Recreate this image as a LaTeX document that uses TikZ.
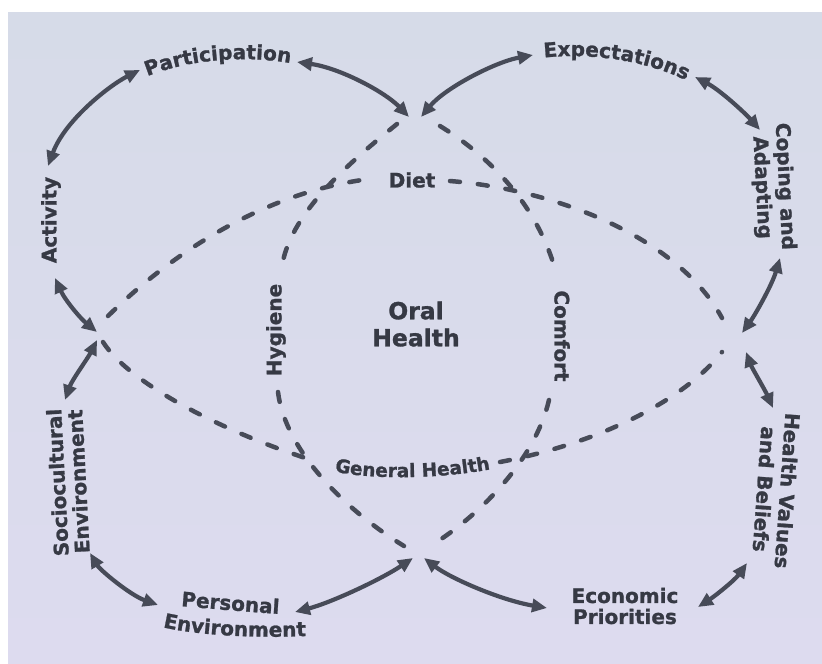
\documentclass[tikz,border=0pt]{standalone}
\usepackage{fontspec}
\setmainfont{DejaVu Sans}[BoldFeatures={FakeBold=1.2}]
\usetikzlibrary{arrows.meta,decorations.text}
\definecolor{ink}{HTML}{474B58}
\definecolor{txt}{HTML}{363944}
\definecolor{bgtop}{HTML}{D6DBE8}
\definecolor{bgbot}{HTML}{DDDBEF}
\newcommand\mylab{\fontsize{20}{22}\selectfont\bfseries\color{txt}}
\newcommand\mylabs{\fontsize{18.5}{22}\selectfont\bfseries\color{txt}}
\begin{document}
\begin{tikzpicture}[x=1pt,y=-1pt,
  link/.style={draw=ink, line width=4.2pt, {Triangle[length=15pt,width=13pt]}-{Triangle[length=15pt,width=13pt]}},
  dashline/.style={draw=ink, line width=4.5pt, line cap=round, dash pattern=on 10pt off 18pt},
  lab/.style={text=txt, font=\fontsize{20}{22}\selectfont\bfseries, inner sep=0pt, align=center},
  twolab/.style={lab, font=\fontsize{20}{21}\selectfont\bfseries},
  curvetext/.style={decorate, decoration={text along path, text align=center}},
]
\fill[white] (0,0) rectangle (822,664);
\useasboundingbox (0,0) rectangle (822,664);
\shade[top color=bgtop, bottom color=bgbot] (8,12) rectangle (822,664);

% hubs
\coordinate (tL) at (409,117);
\coordinate (tR) at (421,117);
\coordinate (rU) at (742,333);
\coordinate (rD) at (746,352);
\coordinate (bL) at (413,558);
\coordinate (bR) at (424,558);
\coordinate (lU) at (97,332);
\coordinate (lD) at (97,340);

% label ends
\coordinate (partL) at (140,70);
\coordinate (partR) at (297,62);
\coordinate (actT) at (48,166);
\coordinate (actB) at (55,278);
\coordinate (socT) at (65,400);
\coordinate (socB) at (90,553);
\coordinate (persL) at (158,605);
\coordinate (persR) at (295,612);
\coordinate (ecoL) at (547,608);
\coordinate (ecoR) at (698,607);
\coordinate (hvB) at (747,563);
\coordinate (hvT) at (773,408);
\coordinate (copB) at (780,258);
\coordinate (copT) at (760,130);
\coordinate (expR) at (695,77);
\coordinate (expL) at (533,55);

% labels
\node[lab] (diet) at (412,180) {Diet};
\node[lab, rotate=90] (hyg) at (276,330) {Hygiene};
\node[lab, rotate=-90] (com) at (562,336) {Comfort};
\node[lab, font=\fontsize{23.5}{27}\selectfont\bfseries] (oral) at (416,324) {Oral\\Health};
\node[lab, rotate=90] (act) at (51,220) {Activity};
\node[twolab, rotate=93] (soc) at (68,482) {Sociocultural\\Environment};
\node[twolab, rotate=-87, font=\fontsize{20}{23}\selectfont\bfseries] (cop) at (773,187) {Coping and\\Adapting};
\node[twolab, rotate=-94, font=\fontsize{20}{23}\selectfont\bfseries] (hv) at (776,490) {Health Values\\and Beliefs};
\node[twolab] (eco) at (625,606) {Economic\\Priorities};

\path[curvetext, decoration={text={|\mylab|Participation}}] (143,78) .. controls (190,58) and (250,55) .. (295,64);
\path[curvetext, decoration={text={|\mylab|Expectations}}] (540,58) .. controls (590,52) and (645,60) .. (690,82);
\path[curvetext, decoration={text={|\mylabs|General Health}}] (333,471) .. controls (370,480) and (440,479) .. (492,469);
\path[curvetext, decoration={text={|\mylab|Personal}}] (180,606) .. controls (215,609) and (250,612) .. (280,614);
\path[curvetext, decoration={text={|\mylab|Environment}}] (162,627) .. controls (200,636) and (260,638) .. (307,636);

% outer links
\draw[link] (partR) .. controls (340,68) and (385,92) .. (tL);
\draw[link] (partL) .. controls (110,85) and (65,120) .. (actT);
\draw[link] (actB) .. controls (65,300) and (80,318) .. (lU);
\draw[link] (lD) .. controls (88,358) and (72,380) .. (socT);
\draw[link] (socB) .. controls (100,570) and (130,595) .. (persL);
\draw[link] (persR) .. controls (330,603) and (380,580) .. (bL);
\draw[link] (bR) .. controls (450,578) and (500,600) .. (ecoL);
\draw[link] (ecoR) .. controls (715,596) and (735,580) .. (hvB);
\draw[link] (hvT) .. controls (765,390) and (752,368) .. (rD);
\draw[link] (rU) .. controls (755,315) and (772,285) .. (copB);
\draw[link] (copT) .. controls (745,113) and (720,90) .. (expR);
\draw[link] (expL) .. controls (495,62) and (445,88) .. (tR);

% dashed inner curves
\coordinate (dL1) at (108,316);
\coordinate (dietW) at (362,180);
\coordinate (dietE) at (450,181);
\coordinate (dR1) at (722,318);
\coordinate (dL2) at (103,342);
\coordinate (ghW) at (318,462);
\coordinate (ghE) at (500,462);
\coordinate (dR2) at (722,352);
\coordinate (dT1) at (397,124);
\coordinate (hygT) at (281,274);
\coordinate (hygB) at (278,392);
\coordinate (dB1) at (404,546);
\coordinate (dT2) at (440,126);
\coordinate (comT) at (557,276);
\coordinate (comB) at (549,400);
\coordinate (dB2) at (432,545);

\draw[dashline] (dL1) .. controls (170,255) and (260,195) .. (dietW);
\draw[dashline] (dietE) .. controls (560,190) and (680,240) .. (dR1);
\draw[dashline] (dL2) .. controls (130,385) and (230,435) .. (ghW);
\draw[dashline] (ghE) .. controls (590,445) and (680,405) .. (dR2);
\draw[dashline] (dT1) .. controls (340,170) and (285,220) .. (hygT);
\draw[dashline] (hygB) .. controls (285,450) and (345,510) .. (dB1);
\draw[dashline] (dT2) .. controls (495,160) and (540,210) .. (comT);
\draw[dashline] (comB) .. controls (535,460) and (480,515) .. (dB2);
\end{tikzpicture}
\end{document}
